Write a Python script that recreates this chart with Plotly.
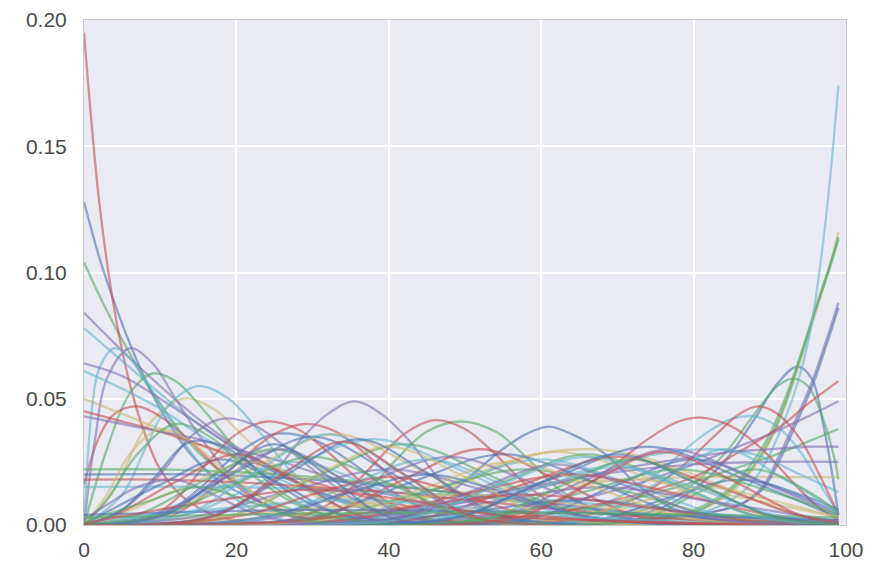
import plotly.graph_objects as go

# ---- colours (seaborn "deep") ----
COLORS = {
    "blue": "#4C72B0", "green": "#55A868", "red": "#C44E52",
    "purple": "#8172B2", "yellow": "#CCB974", "cyan": "#64B5CD",
}

# ---- curves: (x anchors, y values), grouped by colour ----
BLUE = [
    ([0, 2, 4, 6, 8, 10, 14, 18, 24, 30, 40, 99], [.128, .106, .088, .072, .058, .046, .028, .017, .008, .003, .001, 0]),
    ([0, 10, 15, 20, 25, 30, 35, 40, 46, 55, 99], [0, .004, .014, .028, .036, .034, .025, .014, .005, .001, 0]),
    ([0, 40, 45, 49, 54.5, 58, 61, 64, 68, 73, 77, 83, 99], [0, .002, .007, .015, .029, .036, .039, .036, .029, .015, .007, .002, 0]),
    ([0, 65, 70, 78, 84, 88, 91, 93.6, 95.5, 97, 98.2, 99], [0, .001, .002, .010, .025, .042, .056, .0627, .058, .040, .020, .004]),
    ([0, 15, 30, 45, 60, 75, 90, 99], [.020, .020, .018, .014, .009, .004, .001, 0]),
    ([0, 60, 70, 80, 86, 89, 91, 93, 95.7, 97.5, 99], [0, .001, .002, .004, .008, .014, .024, .037, .056, .072, .086]),
    ([0, 10, 20, 30, 40, 50, 60, 99], [.0004, .0047, .021, .035, .021, .0047, .0004, 0]),
    ([0, 19, 31, 43, 55, 67, 79, 91, 99], [0, .0003, .0038, .017, .028, .017, .0038, .0003, 0]),
    ([0, 38, 50, 62, 74, 86, 98, 99], [0, .0003, .0042, .019, .031, .019, .0042, .003]),
    ([0, 2, 10, 18, 26, 34, 42, 99], [.0001, .0035, .016, .026, .016, .0035, .0003, 0]),
    ([0, 50, 60, 70, 80, 90, 99], [0, .0003, .0035, .016, .026, .016, .005]),
    ([0, 59, 68, 77, 86, 95, 99], [0, .0002, .0024, .011, .018, .011, .006]),
    ([0, 33, 49, 65, 81, 97, 99], [0, .0007, .0045, .010, .0045, .0007, .0005]),
    ([0, 15, 25, 35, 45, 55, 65, 75, 99], [0, .0005, .004, .013, .020, .013, .004, .0005, 0]),
    ([0, 5, 9, 14, 19, 24, 30, 38, 99], [0, .006, .018, .033, .030, .019, .008, .002, 0]),
    ([0, 30, 60, 99], [.004, .006, .005, .002]),
    ([0, 9, 18, 27, 36, 45, 54, 63, 99], [0, .0004, .0046, .0207, .034, .0207, .0046, .0004, 0]),
    ([0, 40, 50, 60, 70, 80, 90, 99], [0, .0003, .0038, .017, .028, .017, .0038, .0005]),
    ([0, 4, 11, 18, 25, 32, 39, 46, 99], [0, .0004, .0043, .0195, .032, .0195, .0043, .0004, 0]),
]
GREEN = [
    ([0, 2, 4, 6, 8, 10, 14, 18, 24, 30, 40, 99], [.104, .091, .079, .068, .057, .048, .032, .021, .010, .004, .001, 0]),
    ([0, 3, 6, 9, 12, 15, 20, 25, 30, 35, 99], [0, .030, .052, .060, .057, .048, .030, .015, .006, .002, 0]),
    ([0, 28, 33, 37, 41, 45, 49.5, 54, 58, 62, 67, 74, 99], [0, .001, .005, .013, .026, .037, .041, .037, .027, .015, .006, .001, 0]),
    ([0, 65, 70, 78, 84, 88, 91, 93, 95, 97, 98.5, 99], [0, .001, .003, .012, .028, .044, .055, .058, .055, .042, .026, .018]),
    ([0, 70, 80, 85, 88, 90, 92, 94, 96, 98, 99], [0, .001, .006, .015, .026, .036, .050, .067, .086, .104, .114]),
    ([0, 70, 80, 85, 88, 90, 92, 94, 96, 98, 99], [0, .001, .005, .014, .024, .034, .048, .066, .085, .103, .113]),
    ([0, 40, 50, 60, 70, 80, 85, 90, 95, 99], [0, .0005, .001, .004, .009, .017, .022, .027, .033, .038]),
    ([0, 10, 20, 30, 40, 50, 60, 70, 80, 90, 99], [.022, .022, .021, .019, .016, .012, .008, .005, .002, .001, 0]),
    ([0, 9, 20, 31, 42, 53, 64, 75, 99], [0, .0004, .0043, .020, .032, .020, .0043, .0004, 0]),
    ([0, 33, 44, 55, 66, 77, 88, 99], [0, .0003, .0038, .017, .028, .017, .0038, .0003]),
    ([0, 7, 16, 25, 34, 43, 52, 99], [.0003, .004, .018, .030, .018, .004, .0003, 0]),
    ([0, 19, 32, 45, 58, 71, 84, 97, 99], [0, .0003, .003, .0134, .022, .0134, .003, .0003, 0]),
    ([0, 42, 54, 66, 78, 90, 99], [0, .0003, .003, .0134, .022, .0134, .004]),
    ([0, 67, 74, 81, 88, 95, 99], [0, .0003, .003, .0134, .022, .0134, .005]),
    ([0, 3, 7, 12, 17, 22, 28, 35, 99], [0, .010, .028, .040, .034, .020, .008, .002, 0]),
    ([0, 1, 8, 15, 22, 29, 36, 99], [.0002, .002, .009, .015, .009, .002, .0002, 0]),
    ([0, 50, 99], [.003, .005, .003]),
    ([0, 10, 20, 30, 40, 50, 60, 99], [.0003, .0036, .0165, .027, .0165, .0036, .0003, 0]),
    ([0, 45, 54, 63, 72, 81, 90, 99], [0, .0003, .0035, .016, .026, .016, .0035, .0003]),
]
RED = [
    ([0, 2, 4, 6, 8, 10, 13, 17, 22, 30, 99], [.195, .128, .085, .056, .036, .022, .011, .004, .001, 0, 0]),
    ([0, 2, 4, 7, 10, 14, 18, 22, 27, 35, 99], [.016, .035, .044, .047, .043, .033, .021, .011, .004, .001, 0]),
    ([0, 5, 10, 15, 20, 25, 30, 40, 50, 99], [.045, .041, .037, .032, .027, .022, .017, .009, .004, 0]),
    ([0, 8, 12, 16, 20, 24, 28, 32, 36, 40, 46, 99], [0, .002, .010, .024, .036, .041, .038, .029, .018, .009, .002, 0]),
    ([0, 10, 15, 20, 25, 29, 33, 37, 42, 47, 55, 99], [0, .002, .010, .024, .036, .040, .037, .028, .015, .006, .001, 0]),
    ([0, 25, 30, 34, 38, 42, 46, 50, 54, 58, 63, 70, 99], [0, .001, .005, .012, .024, .036, .0415, .038, .028, .016, .006, .001, 0]),
    ([0, 50, 55, 62, 68, 74, 78, 81, 85, 89, 93, 96, 99], [0, .001, .003, .009, .020, .034, .041, .0425, .039, .030, .017, .008, .002]),
    ([0, 60, 65, 72, 78, 83, 86, 88.5, 91, 94, 96.5, 99], [0, .001, .003, .010, .022, .036, .044, .047, .044, .034, .020, .004]),
    ([0, 40, 50, 60, 70, 80, 86, 91.4, 95, 99], [0, .001, .002, .004, .010, .019, .029, .039, .048, .057]),
    ([0, 10, 20, 30, 40, 50, 60, 70, 80, 99], [.018, .018, .017, .015, .013, .010, .007, .004, .002, 0]),
    ([0, 22, 32, 42, 52, 62, 72, 82, 99], [0, .0003, .004, .018, .030, .018, .004, .0003, 0]),
    ([0, 34, 46, 58, 70, 82, 94, 99], [0, .0003, .0036, .0165, .027, .0165, .0036, .001]),
    ([0, 4, 12, 20, 28, 36, 44, 99], [.0003, .0038, .017, .028, .017, .0038, .0003, 0]),
    ([0, 22, 36, 50, 64, 78, 92, 99], [0, .0003, .0027, .0122, .020, .0122, .0027, .0008]),
    ([0, 13, 28, 43, 58, 73, 88, 99], [0, .0002, .0016, .0073, .012, .0073, .0016, .0003]),
    ([0, 12, 22, 31, 40, 49, 58, 99], [0, .0006, .0045, .013, .019, .013, .0045, 0]),
    ([0, 6, 18, 30, 42, 54, 99], [.0006, .004, .010, .014, .010, .004, 0]),
    ([0, 10, 18, 26, 34, 42, 50, 58, 99], [0, .0004, .0045, .020, .033, .020, .0045, .0004, 0]),
    ([0, 49, 58, 67, 76, 85, 94, 99], [0, .0003, .0039, .0177, .029, .0177, .0039, .001]),
]
PURPLE = [
    ([0, 5, 10, 15, 20, 25, 30, 35, 45, 60, 99], [.084, .069, .055, .042, .031, .022, .014, .008, .002, 0, 0]),
    ([0, 1.5, 3, 6, 9, 12, 15, 20, 25, 30, 99], [0, .035, .058, .070, .064, .050, .036, .017, .006, .002, 0]),
    ([0, 5, 10, 15, 20, 25, 30, 40, 50, 99], [.064, .059, .050, .040, .030, .021, .014, .005, .001, 0]),
    ([0, 5, 10, 15, 20, 25, 30, 40, 50, 60, 99], [.043, .040, .037, .034, .030, .026, .021, .012, .006, .002, 0]),
    ([0, 5, 10, 14, 18, 22, 26, 30, 35, 40, 99], [0, .006, .020, .035, .042, .040, .032, .022, .011, .004, 0]),
    ([0, 15, 20, 24, 28.5, 32, 35.5, 39, 42.5, 47, 51, 56, 99], [0, .002, .008, .017, .034, .044, .049, .044, .034, .017, .008, .002, 0]),
    ([0, 60, 70, 80, 86, 89, 91, 93, 95.7, 97.5, 99], [0, .001, .002, .004, .008, .015, .026, .039, .058, .074, .088]),
    ([0, 40, 50, 60, 70, 80, 85, 90, 95, 99], [0, .001, .003, .007, .014, .024, .030, .036, .043, .049]),
    ([0, 20, 30, 40, 50, 60, 70, 80, 85, 90, 95, 99], [0, .0003, .001, .004, .009, .015, .022, .027, .029, .030, .031, .031]),
    ([0, 20, 30, 40, 50, 60, 70, 80, 90, 99], [0, .0008, .002, .005, .010, .016, .021, .024, .025, .025]),
    ([0, 15, 26, 37, 48, 59, 70, 81, 99], [0, .0003, .0036, .0165, .027, .0165, .0036, .0003, 0]),
    ([0, 44, 55, 66, 77, 88, 99], [0, .0003, .004, .018, .030, .018, .004]),
    ([0, 14, 27, 40, 53, 66, 79, 99], [.0003, .003, .0134, .022, .0134, .003, .0003, 0]),
    ([0, 23, 38, 53, 68, 83, 98, 99], [0, .0002, .002, .009, .015, .009, .002, .0018]),
    ([0, 3, 7, 12, 17, 22, 28, 99], [.002, .008, .015, .018, .012, .005, .001, 0]),
    ([0, 2, 10, 18, 26, 34, 42, 50, 99], [0, .0003, .004, .018, .030, .018, .004, .0003, 0]),
    ([0, 32, 42, 52, 62, 72, 82, 92, 99], [0, .0003, .0032, .0146, .024, .0146, .0032, .0003, 0]),
]
YELLOW = [
    ([0, 4, 8, 13, 17, 21, 26, 32, 40, 99], [0, .014, .038, .050, .046, .035, .021, .009, .002, 0]),
    ([0, 5, 10, 15, 20, 25, 30, 40, 50, 99], [.050, .044, .038, .032, .026, .020, .015, .007, .003, 0]),
    ([0, 30, 40, 50, 58, 65, 72, 80, 88, 95, 99], [0, .001, .005, .017, .027, .030, .028, .020, .010, .003, .001]),
    ([0, 70, 80, 85, 88, 90, 92, 94, 96, 98, 99], [0, .001, .005, .013, .023, .033, .047, .065, .084, .104, .116]),
    ([0, 10, 20, 30, 40, 50, 60, 70, 80, 90, 99], [0, .0008, .002, .005, .009, .013, .016, .018, .019, .019, .019]),
    ([0, 11, 22, 33, 44, 55, 66, 99], [.0004, .0049, .022, .036, .022, .0049, .0004, 0]),
    ([0, 23, 36, 49, 62, 75, 88, 99], [0, .0003, .0039, .0177, .029, .0177, .0039, .0005]),
    ([0, 4, 13, 22, 31, 40, 49, 99], [.0003, .0034, .015, .025, .015, .0034, .0003, 0]),
    ([0, 30, 44, 58, 72, 86, 99], [0, .0003, .0024, .011, .018, .011, .003]),
    ([0, 3, 6, 10, 14, 19, 25, 32, 99], [0, .012, .028, .038, .033, .020, .008, .002, 0]),
    ([0, 14, 32, 50, 68, 86, 99], [.0008, .0027, .007, .012, .007, .0027, .0012]),
    ([0, 58, 66, 74, 82, 90, 99], [0, .0004, .004, .010, .015, .010, .003]),
    ([0, 10, 20, 30, 40, 50, 60, 70, 99], [0, .0003, .0042, .019, .031, .019, .0042, .0003, 0]),
    ([0, 23, 34, 45, 56, 67, 78, 89, 99], [0, .0003, .0034, .015, .025, .015, .0034, .0003, 0]),
]
CYAN = [
    ([0, 5, 10, 15, 20, 25, 30, 40, 50, 99], [.078, .065, .052, .040, .030, .021, .014, .005, .001, 0]),
    ([0, 1, 2, 4, 6, 9, 12, 15, 20, 25, 30, 99], [0, .045, .062, .070, .066, .053, .038, .025, .010, .003, .001, 0]),
    ([0, 5, 10, 15, 20, 25, 30, 40, 99], [.061, .054, .046, .036, .027, .019, .013, .005, 0]),
    ([0, 5, 8, 11, 15, 19, 23, 27, 32, 38, 99], [0, .012, .030, .047, .055, .050, .037, .022, .010, .003, 0]),
    ([0, 55, 60, 68, 75, 81, 85, 88, 91, 94, 97, 99], [0, .001, .002, .008, .020, .035, .042, .043, .039, .029, .014, .005]),
    ([0, 70, 80, 85, 88, 90, 92, 94, 95.5, 97, 98, 99], [0, .001, .004, .010, .018, .028, .042, .060, .080, .112, .140, .174]),
    ([0, 25, 35, 45, 55, 65, 75, 82, 88, 94, 99], [0, .0005, .002, .006, .013, .021, .028, .030, .028, .020, .013]),
    ([0, 20, 40, 60, 80, 99], [.015, .015, .013, .010, .005, .001]),
    ([0, 2, 14, 26, 38, 50, 62, 74, 99], [0, .0004, .0046, .021, .034, .021, .0046, .0004, 0]),
    ([0, 24, 36, 48, 60, 72, 84, 96, 99], [0, .0003, .0035, .016, .026, .016, .0035, .0003, 0]),
    ([0, 15, 25, 35, 45, 55, 65, 75, 99], [0, .0003, .0035, .016, .026, .016, .0035, .0003, 0]),
    ([0, 8, 18, 28, 38, 48, 58, 99], [.0003, .0034, .015, .025, .015, .0034, .0003, 0]),
    ([0, 60, 68, 76, 84, 92, 99], [0, .0003, .004, .018, .030, .018, .005]),
    ([0, 40, 50, 60, 70, 80, 90, 99], [0, .0005, .0045, .015, .023, .015, .0045, .001]),
    ([0, 5, 20, 35, 50, 65, 99], [.0008, .003, .007, .010, .007, .003, 0]),
    ([0, 5, 14, 23, 32, 41, 50, 59, 99], [0, .0004, .0049, .022, .036, .022, .0049, .0004, 0]),
    ([0, 33, 44, 55, 66, 77, 88, 99], [0, .0003, .0036, .0165, .027, .0165, .0036, .0003]),
]

X_TICKS = [0, 20, 40, 60, 80, 100]
Y_TICKS = [0.0, 0.05, 0.10, 0.15, 0.20]

GROUPS = [("blue", BLUE), ("green", GREEN), ("red", RED),
          ("purple", PURPLE), ("yellow", YELLOW), ("cyan", CYAN)]


def rgba(hexc, a):
    h = hexc.lstrip("#")
    return "rgba(%d,%d,%d,%.2f)" % (int(h[0:2], 16), int(h[2:4], 16), int(h[4:6], 16), a)


fig = go.Figure()
n_max = max(len(g) for _, g in GROUPS)
for i in range(n_max):
    for name, grp in GROUPS:
        if i < len(grp):
            xs, ys = grp[i]
            fig.add_trace(go.Scatter(
                x=xs, y=ys, mode="lines",
                line=dict(color=rgba(COLORS[name], 0.6), width=2.3,
                          shape="spline", smoothing=1.0),
                hoverinfo="skip", showlegend=False,
            ))

axis_common = dict(
    showgrid=True, gridcolor="white", gridwidth=1.8, automargin=False,
    zeroline=False, showline=True, linecolor="#c8c8c8", linewidth=1, mirror=True,
    ticks="", tickfont=dict(family="Liberation Sans, Arial, sans-serif", size=21, color="#4a4a4a"),
)
fig.update_xaxes(range=[0, 100], tickvals=X_TICKS, ticklabelstandoff=6, **axis_common)
fig.update_yaxes(range=[0, 0.2], tickvals=Y_TICKS, tickformat=".2f", ticklabelstandoff=12, **axis_common)

fig.update_layout(
    width=871, height=567,
    margin=dict(l=84, r=25, t=20, b=42),
    plot_bgcolor="#EAEAF2", paper_bgcolor="white",
)
fig.write_html("out.html")
